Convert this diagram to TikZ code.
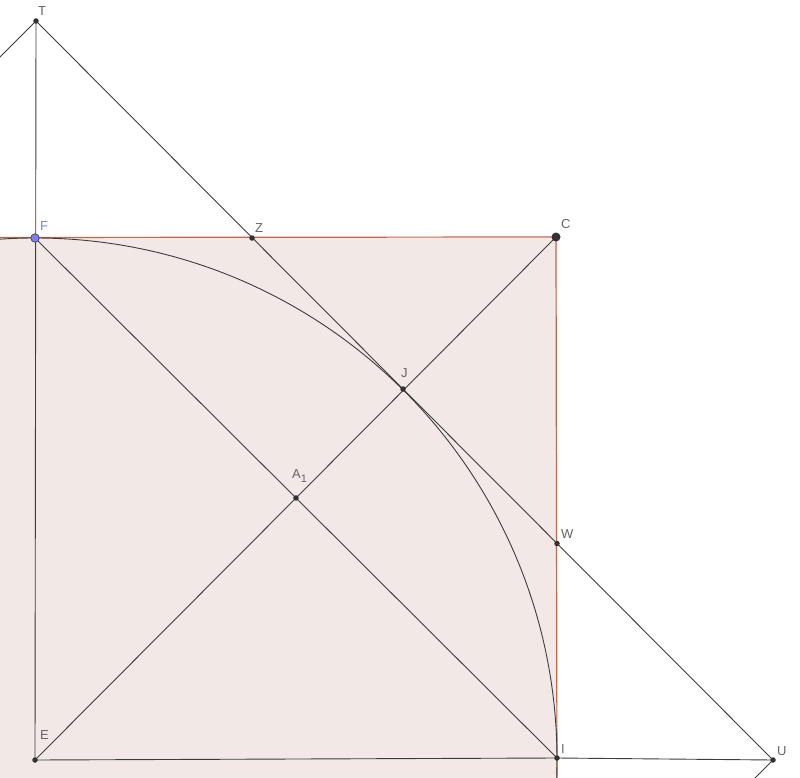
\documentclass[tikz,border=0pt]{standalone}
\usepackage{fontspec}
\setmainfont{Liberation Sans}
\definecolor{fillsq}{RGB}{242,233,230}
\definecolor{brownln}{RGB}{190,105,75}
\definecolor{lngray}{RGB}{60,60,60}
\definecolor{lblgray}{RGB}{100,100,100}
\definecolor{ptdark}{RGB}{50,50,50}
\definecolor{ptblue}{RGB}{125,125,255}
\begin{document}
\begin{tikzpicture}[x=1pt,y=-1pt,
  ln/.style={draw=lngray,line width=0.9pt},
  sqborder/.style={draw=brownln,line width=1.2pt},
  pt/.style={circle,fill=ptdark,inner sep=0pt,minimum size=5.5pt},
  bigpt/.style={circle,fill=ptdark,inner sep=0pt,minimum size=9pt},
  bluept/.style={circle,fill=ptblue,draw=ptdark,line width=0.6pt,inner sep=0pt,minimum size=8.5pt},
  lbl/.style={text=lblgray,font=\fontsize{13}{13}\selectfont,inner sep=0pt,anchor=base west}]
\useasboundingbox (0,0) rectangle (800,778);
\clip (0,0) rectangle (800,778);
% coordinates
\coordinate (t) at (36,21);
\coordinate (f) at (35,238);
\coordinate (z) at (252,238);
\coordinate (c) at (556,237);
\coordinate (j) at (403,389);
\coordinate (w) at (557,543.5);
\coordinate (e) at (35,760);
\coordinate (i) at (557,758);
\coordinate (u) at (773,760);
\coordinate (a1) at (intersection of f--i and e--c);
\coordinate (tl) at (-20,77);
\coordinate (ul) at (735,798);
\coordinate (sqtl) at (-10,237.5);
\coordinate (sqbr) at (557,790);
% square fill
\fill[fillsq] (sqtl) rectangle (sqbr);
% lines
\draw[ln] (t) -- (u);
\draw[ln] (t) -- (tl);
\draw[ln] (u) -- (ul);
\draw[ln] (t) -- (e);
\draw[ln] (e) -- (i);
\draw[ln] (i) -- (u);
\draw[ln] (f) -- (i);
\draw[ln] (e) -- (c);
% square border
\draw[sqborder] (sqtl) -- (c) -- (sqbr);
% arc
\draw[ln] (e) circle[radius=522pt];
% points
\node[pt] (T) at (t) {};
\node[bluept] (F) at (f) {};
\node[pt] (Z) at (z) {};
\node[bigpt] (C) at (c) {};
\node[pt] (J) at (j) {};
\node[pt] (W) at (w) {};
\node[pt] (E) at (e) {};
\node[pt] (I) at (i) {};
\node[pt] (U) at (u) {};
\node[pt] (A1) at (a1) {};
% labels
\node[lbl] (lT) at (38,16) {T};
\node[lbl,text=ptblue] (lF) at (40,230) {F};
\node[lbl] (lZ) at (255,232) {Z};
\node[lbl] (lC) at (561,229) {C};
\node[lbl] (lJ) at (401,377) {J};
\node[lbl] (lA) at (292,478) {A\raisebox{-4.5pt}{\fontsize{11}{11}\selectfont 1}};
\node[lbl] (lW) at (561,538) {W};
\node[lbl] (lE) at (40,739) {E};
\node[lbl] (lI) at (561,753) {I};
\node[lbl] (lU) at (777,755) {U};
\end{tikzpicture}
\end{document}
